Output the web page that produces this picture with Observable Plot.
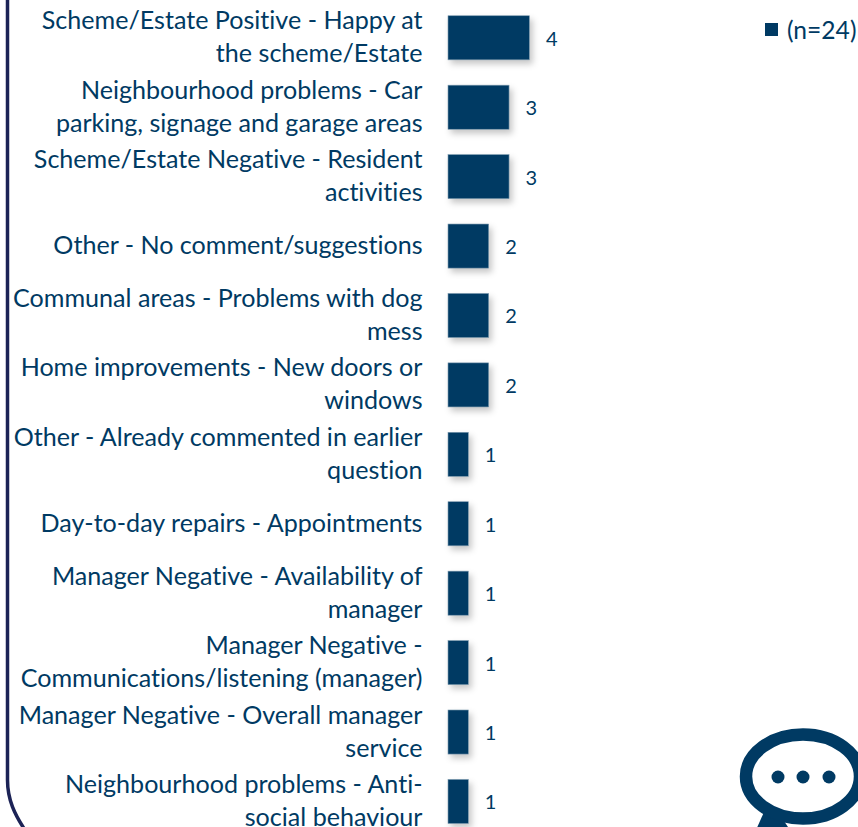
<!DOCTYPE html>
<html><head><meta charset="utf-8">
<script src="https://cdn.jsdelivr.net/npm/d3@7"></script>
<script src="https://cdn.jsdelivr.net/npm/@observablehq/plot@0.6"></script>
<style>
html,body{margin:0;padding:0;background:#fff;overflow:hidden;width:858px;height:827px}
#wrap{position:relative;width:858px;height:827px;overflow:hidden}
#wrap svg text{font-variant-ligatures:none}
#legend{position:absolute;left:765px;top:15px;display:flex;align-items:center;font:24.6px Lato,sans-serif;color:#003a63;white-space:nowrap;font-variant-ligatures:none}
#legend i{display:inline-block;width:13px;height:13px;background:#003a63;margin-right:9px}
</style></head><body><div id="wrap"><div id="legend"><i></i><span>(n=24)</span></div></div>
<script>
const categories = [
  "Scheme/Estate Positive - Happy at\nthe scheme/Estate",
  "Neighbourhood problems - Car\nparking, signage and garage areas",
  "Scheme/Estate Negative - Resident\nactivities",
  "Other - No comment/suggestions",
  "Communal areas - Problems with dog\nmess",
  "Home improvements - New doors or\nwindows",
  "Other - Already commented in earlier\nquestion",
  "Day-to-day repairs - Appointments",
  "Manager Negative - Availability of\nmanager",
  "Manager Negative -\nCommunications/listening (manager)",
  "Manager Negative - Overall manager\nservice",
  "Neighbourhood problems - Anti-\nsocial behaviour"
];
const counts = [4,3,3,2,2,2,1,1,1,1,1,1];
const rows = categories.map((c,i)=>({category:c,count:counts[i]}));
const navy = "#003a63";

function decoration(index, scales, values, dims, context){
  const svg = d3.select(context.document.createElementNS("http://www.w3.org/2000/svg","g"));
  svg.append("path").attr("d","M7.5 -5 V780 C7.5 800 15 815 25 830")
    .attr("fill","none").attr("stroke","#1c2356").attr("stroke-width",3.5);
  svg.append("path").attr("d","M764 812 L756 830 L790 830 L782 818 Z").attr("fill",navy);
  svg.append("ellipse").attr("cx",803).attr("cy",776.5).attr("rx",57).attr("ry",42)
    .attr("fill","#fff").attr("stroke",navy).attr("stroke-width",12.5);
  for (const cx of [778,803,829]) svg.append("circle").attr("cx",cx).attr("cy",777).attr("r",6.5).attr("fill",navy);
  return svg.node();
}

const chart = Plot.plot({
  width:858, height:827,
  marginLeft:448, marginRight:0, marginTop:0, marginBottom:0,
  style:{background:"transparent",fontFamily:"Lato, sans-serif",overflow:"hidden"},
  x:{domain:[0,20.15],range:[448,858],axis:null},
  y:{domain:categories,range:[3.25,836],paddingInner:0.365,paddingOuter:0.18,align:0.5,round:false,label:null},
  marks:[
    decoration,
    Plot.barX(rows,{x:"count",y:"category",fill:navy,stroke:"#7f9db1",strokeWidth:0.6,
      imageFilter:"drop-shadow(3px 4px 3px rgba(0,0,0,0.22))"}),
    Plot.axisY({tickSize:0,tickPadding:26,fontSize:25.1,lineHeight:1.315,color:navy,fill:navy,label:null,
      dy:-3,tickFormat:d=>d}),
    Plot.text(rows,{x:"count",y:"category",text:d=>String(d.count),dx:16,dy:1,textAnchor:"start",fontSize:20,fill:navy})
  ]
});
document.getElementById("wrap").prepend(chart);
</script></body></html>
